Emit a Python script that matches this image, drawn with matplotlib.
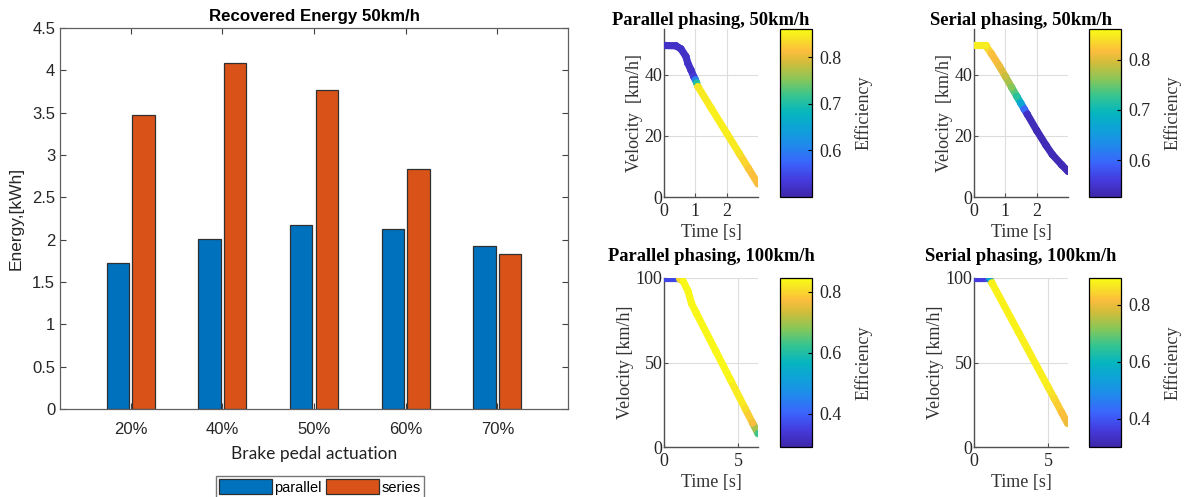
import numpy as np
import matplotlib
matplotlib.use('Agg')
import matplotlib.pyplot as plt
from matplotlib.collections import LineCollection
from matplotlib.colors import LinearSegmentedColormap, Normalize
from matplotlib.cm import ScalarMappable
from matplotlib.ticker import FuncFormatter

plt.rcParams['font.family'] = 'Liberation Sans'

# bar chart data
categories = ['20%', '40%', '50%', '60%', '70%']
parallel = [1.73, 2.01, 2.17, 2.13, 1.92]
series = [3.47, 4.09, 3.77, 2.84, 1.83]

# velocity traces (time [s], velocity [km/h], efficiency)
p50_t = [0, 0.38, 0.54, 0.70, 0.76, 0.86, 0.95, 1.0, 1.04, 1.08, 1.5, 2.0, 2.4, 2.7, 3.0]
p50_v = [49.6, 49.5, 48.5, 46.0, 43.8, 41.6, 39.4, 38.4, 37.4, 36.2, 29.2, 20.9, 14.3, 9.3, 4.3]
p50_e = [0.52, 0.52, 0.52, 0.52, 0.52, 0.52, 0.53, 0.60, 0.70, 0.84, 0.85, 0.85, 0.84, 0.82, 0.81]

s50_t = [0, 0.37, 0.55, 0.8, 1.0, 1.2, 1.37, 1.5, 1.6, 1.7, 2.0, 2.3, 2.5, 2.8, 3.0]
s50_v = [49.6, 49.6, 47.0, 43.0, 39.5, 35.9, 32.9, 30.6, 28.8, 27.1, 21.8, 16.9, 13.9, 10.5, 8.4]
s50_e = [0.85, 0.85, 0.82, 0.81, 0.79, 0.76, 0.72, 0.67, 0.60, 0.545, 0.535, 0.535, 0.535, 0.535, 0.535]

p100_t = [0, 0.95, 1.05, 1.3, 1.64, 1.86, 2.2, 3.5, 4.5, 5.5, 6.0, 6.36]
p100_v = [100, 100, 99.5, 98, 92, 85, 79, 56.8, 39.7, 22.6, 14.1, 7.9]
p100_e = [0.36, 0.36, 0.80, 0.84, 0.84, 0.84, 0.84, 0.84, 0.84, 0.81, 0.77, 0.63]

s100_t = [0, 0.9, 1.03, 1.2, 3.0, 5.0, 5.4, 5.9, 6.3]
s100_v = [100, 100, 100, 97.2, 67.9, 35.3, 28.8, 20.5, 14.0]
s100_e = [0.36, 0.36, 0.55, 0.88, 0.88, 0.87, 0.85, 0.82, 0.80]

# parula-like colormap
parula = LinearSegmentedColormap.from_list('parula', [
    (0.00, (0.2422, 0.1504, 0.6603)), (0.10, (0.2700, 0.2300, 0.8700)),
    (0.20, (0.2300, 0.3900, 0.9900)), (0.30, (0.1300, 0.5300, 0.9300)),
    (0.40, (0.0600, 0.6300, 0.8500)), (0.50, (0.0200, 0.7100, 0.7500)),
    (0.60, (0.2000, 0.7700, 0.5700)), (0.70, (0.5300, 0.7800, 0.3500)),
    (0.80, (0.8200, 0.7400, 0.2300)), (0.87, (0.9900, 0.7400, 0.2400)),
    (0.94, (0.9700, 0.8800, 0.1500)), (1.00, (0.9769, 0.9839, 0.0805))])

fig = plt.figure(figsize=(11.85, 4.97), dpi=100)
W, H = 1185, 497


def box(x0, y0, x1, y1):
    return [x0 / W, 1 - y1 / H, (x1 - x0) / W, (y1 - y0) / H]


# ---- bar chart ----
ax = fig.add_axes(box(60, 28, 568, 409))
x = np.arange(1, len(categories) + 1)
ax.bar(x - 0.14, parallel, 0.245, color='#0072BD', edgecolor='#303030', lw=0.9, label='parallel')
ax.bar(x + 0.14, series, 0.245, color='#D95319', edgecolor='#303030', lw=0.9, label='series')
ax.set_xlim(0.23, 5.77)
ax.set_ylim(0, 4.5)
ax.set_xticks(x)
ax.set_xticklabels(categories)
ax.set_yticks(np.arange(0, 4.51, 0.5))
ax.yaxis.set_major_formatter(FuncFormatter(lambda v, p: '%g' % v))
ax.tick_params(direction='in', top=True, right=True, length=4, width=0.8,
               labelsize=12, colors='#404040', labelcolor='#262626')
ax.tick_params(axis='x', pad=9)
for s in ax.spines.values():
    s.set_color('#606060')
    s.set_linewidth(0.9)
ax.set_title('Recovered Energy 50km/h', fontweight='bold', fontsize=12.2, pad=5)
ax.set_ylabel('Energy,[kWh]', fontsize=12.5, color='#262626', labelpad=6)
ax.set_xlabel('Brake pedal actuation', family='Lato', fontsize=12.5, color='#222222', labelpad=7)
leg = ax.legend(loc='center', bbox_to_anchor=(320 / W, 1 - 487 / H), bbox_transform=fig.transFigure,
                ncol=2, frameon=True, fancybox=False, edgecolor='#555555', fontsize=10.5,
                handlelength=3.6, handleheight=1.2, handletextpad=0.2, columnspacing=0.3,
                borderpad=0.2, borderaxespad=0)


# ---- velocity subplots ----
def velocity_plot(rect, crect, t, v, e, clim, title, xlim, ylim, xt, yt, ct, ylab, tpad):
    a = fig.add_axes(box(*rect))
    norm = Normalize(*clim)
    pts = np.column_stack([t, v])
    segs = np.stack([pts[:-1], pts[1:]], axis=1)
    ev = np.asarray(e)
    lc = LineCollection(segs, cmap=parula, norm=norm, linewidths=5.2, capstyle='round', zorder=3)
    lc.set_array((ev[:-1] + ev[1:]) / 2)
    a.add_collection(lc)
    a.scatter(t, v, c=e, cmap=parula, norm=norm, s=26, linewidths=0, zorder=4)
    a.set_xlim(*xlim)
    a.set_ylim(*ylim)
    a.set_xticks(xt)
    a.set_yticks(yt)
    a.grid(True, color='#dddddd', lw=0.8)
    a.set_axisbelow(True)
    for sn in ('top', 'right'):
        a.spines[sn].set_visible(False)
    for sn in ('left', 'bottom'):
        a.spines[sn].set_color('#505050')
        a.spines[sn].set_linewidth(1.0)
    a.tick_params(direction='in', length=3, labelsize=13, colors='#505050', labelcolor='#262626')
    a.tick_params(axis='x', pad=4)
    a.tick_params(axis='y', pad=1)
    for lab in a.get_xticklabels() + a.get_yticklabels():
        lab.set_family('Liberation Serif')
    a.set_title(title, family='Liberation Serif', fontweight='bold', fontsize=13.3, pad=tpad)
    a.set_xlabel('Time [s]', family='Liberation Serif', fontsize=13, color='#333333', labelpad=3)
    a.set_ylabel(ylab, family='Liberation Serif', fontsize=13, color='#333333', labelpad=1)
    cax = fig.add_axes(box(*crect))
    cb = fig.colorbar(ScalarMappable(norm=norm, cmap=parula), cax=cax)
    cb.set_ticks(ct)
    cb.outline.set_linewidth(0.9)
    cax.tick_params(direction='in', length=3, labelsize=13, labelcolor='#262626', pad=5)
    for lab in cax.get_yticklabels():
        lab.set_family('Liberation Serif')
    cb.set_label('Efficiency', family='Liberation Serif', fontsize=13, color='#333333', labelpad=10)


velocity_plot((664, 29, 758, 197), (780, 29, 812, 197), p50_t, p50_v, p50_e, (0.50, 0.86),
              'Parallel phasing, 50km/h', (0, 3), (0, 55), [0, 1, 2], [0, 20, 40], [0.6, 0.7, 0.8],
              'Velocity  [km/h]', 3)
velocity_plot((974, 29, 1068, 197), (1089, 29, 1121, 197), s50_t, s50_v, s50_e, (0.527, 0.861),
              'Serial phasing, 50km/h', (0, 3), (0, 55), [0, 1, 2], [0, 20, 40], [0.6, 0.7, 0.8],
              'Velocity  [km/h]', 3)
velocity_plot((664, 278, 758, 447), (780, 278, 812, 447), p100_t, p100_v, p100_e, (0.29, 0.846),
              'Parallel phasing, 100km/h', (0, 6.36), (0, 100), [0, 5], [0, 50, 100], [0.4, 0.6, 0.8],
              'Velocity [km/h]', 12)
velocity_plot((974, 278, 1068, 447), (1089, 278, 1121, 447), s100_t, s100_v, s100_e, (0.30, 0.893),
              'Serial phasing, 100km/h', (0, 6.33), (0, 100), [0, 5], [0, 50, 100], [0.4, 0.6, 0.8],
              'Velocity [km/h]', 12)

fig.savefig('out.png', dpi=100)
